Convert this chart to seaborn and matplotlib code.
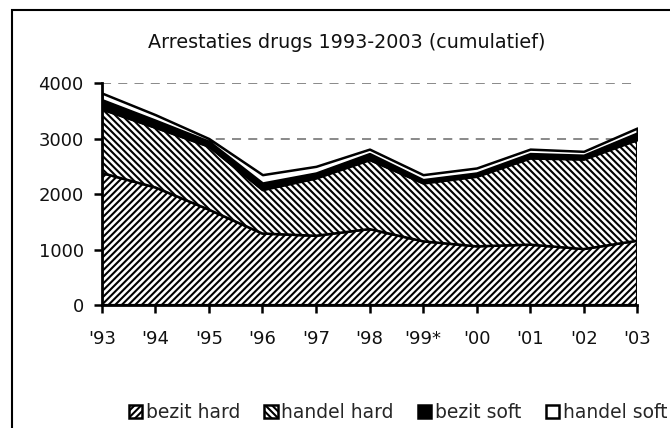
import pandas as pd
import matplotlib.pyplot as plt
import seaborn as sns
from matplotlib.patches import Rectangle

sns.set_style("white")
plt.rcParams["font.family"] = ["DejaVu Sans"]
plt.rcParams["hatch.linewidth"] = 1.5

# Data
years = ["'93", "'94", "'95", "'96", "'97", "'98", "'99*", "'00", "'01", "'02", "'03"]
bezit_hard = [2380, 2120, 1720, 1290, 1250, 1370, 1150, 1060, 1090, 1010, 1160]
handel_hard = [1150, 1080, 1140, 790, 1040, 1250, 1050, 1260, 1560, 1620, 1820]
bezit_soft = [170, 130, 90, 120, 90, 110, 60, 60, 80, 70, 120]
handel_soft = [120, 100, 50, 150, 120, 80, 90, 90, 80, 70, 90]
labels = ["bezit hard", "handel hard", "bezit soft", "handel soft"]

df = pd.DataFrame({
    "jaar": years,
    "bezit hard": bezit_hard,
    "handel hard": handel_hard,
    "bezit soft": bezit_soft,
    "handel soft": handel_soft,
})
x = list(range(len(years)))

fig = plt.figure(figsize=(6.7, 4.28), dpi=100)
ax = fig.add_axes([0.152, 0.287, 0.799, 0.519])

polys = ax.stackplot(x, [df[c] for c in labels],
                     colors=["white", "white", "black", "white"],
                     edgecolor="black", linewidth=1.8, labels=labels, zorder=3)
polys[0].set_hatch("/////")
polys[1].set_hatch("\\\\\\\\\\")

ax.set_xlim(0, len(years) - 1)
ax.set_ylim(0, 4000)
ax.set_yticks([0, 1000, 2000, 3000, 4000])
ax.set_xticks(x)
ax.set_xticklabels(years)
for yv in [1000, 2000, 3000, 4000]:
    ax.axhline(yv, color="#808080", linestyle=(0, (5, 4)), linewidth=1.3, zorder=1)

sns.despine(ax=ax, top=True, right=True)
for s in ["left", "bottom"]:
    ax.spines[s].set_linewidth(2)
    ax.spines[s].set_color("black")
    ax.spines[s].set_zorder(5)
ax.tick_params(axis="both", direction="out", length=6, width=1.8, color="black",
               labelsize=13, labelcolor="#111111")
ax.tick_params(axis="x", pad=12, bottom=True)
ax.tick_params(axis="y", pad=7, left=True)

fig.text(0.517, 0.9, "Arrestaties drugs 1993-2003 (cumulatief)", ha="center",
         va="center", fontsize=13.8, color="#111111")

ax.legend(loc="center", bbox_to_anchor=(0.594, 0.037), bbox_transform=fig.transFigure,
          ncol=4, frameon=False, fontsize=13.5, handlelength=0.7, handleheight=0.7,
          handletextpad=0.2, columnspacing=1.3, borderaxespad=0)

fig.patches.append(Rectangle((0.018, -0.05), 1.1, 1.027, transform=fig.transFigure,
                             fill=False, edgecolor="black", linewidth=1.5))

fig.savefig("out.png", dpi=100)
